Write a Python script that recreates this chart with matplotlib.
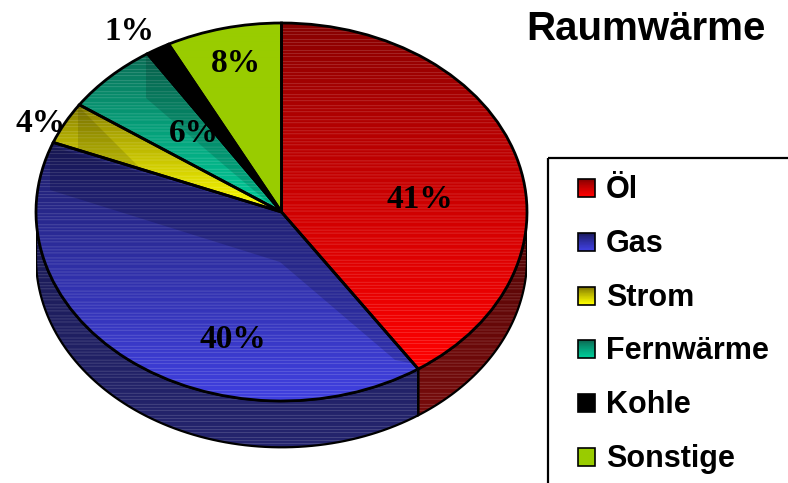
import numpy as np
import matplotlib
matplotlib.use('Agg')
import matplotlib.pyplot as plt
from matplotlib.colors import to_rgb
from matplotlib.patches import Polygon, Rectangle

categories = ['Öl', 'Gas', 'Strom', 'Fernwärme', 'Kohle', 'Sonstige']
values = [40.6, 40.4, 3.6, 6.2, 1.6, 7.6]
pct_labels = ['41%', '40%', '4%', '6%', '1%', '8%']
top_dark = ['#840000', '#1a1a5c', '#7d7400', '#0c6852', '#000000', '#99cc00']
top_bright = ['#ff0000', '#4040e0', '#ffff00', '#00cc99', '#000000', '#99cc00']
side_dark = ['#4c0404', '#181850', '#7d7400', '#0c6852', '#000000', '#99cc00']
side_bright = ['#7c0c0c', '#25256e', '#7d7400', '#0c6852', '#000000', '#99cc00']
label_x = [420, 233, 41, 194, 129, 236]
label_y = [199, 340, 123, 133, 31, 64]

W, H = 788, 483
DEPTH = 0.245
RY = 189


def stripes(dark, bright, n=90, lines=True):
    # vertical gradient with the light scan lines of the old bitmap
    n = max(int(n), 2)
    t = np.linspace(0, 1, n)[:, None] ** 0.8
    img = np.array(to_rgb(dark)) * (1 - t) + np.array(to_rgb(bright)) * t
    if lines and dark != bright:
        light = (np.arange(n) * 7 % 11) < 3
        img[light] = img[light] + (1 - img[light]) * 0.14
    return img[:, None, :]


fig = plt.figure(figsize=(W / 100, H / 100), dpi=100)

# pie axes: x 36..527 px, top ellipse y 23..401 px, room below for the rim
ax = fig.add_axes([36 / W, 1 - 450 / H, 491 / W, 427 / H])
wedges, _ = ax.pie(values, startangle=90, counterclock=False, radius=1,
                   colors=['none'] * 6, frame=False,
                   wedgeprops={'edgecolor': 'black', 'linewidth': 2.0, 'zorder': 5})
ax.set_aspect('auto')
ylim = (1 - 427 / RY, 1)

# rim
start = 90.0
for i, v in enumerate(values):
    end = start - v * 3.6
    a, b = max(end, -180), min(start, 0)
    if b > a:
        th = np.radians(np.linspace(a, b, 80))
        x, y = np.cos(th), np.sin(th)
        pts = np.r_[np.c_[x, y], np.c_[x, y - DEPTH][::-1]]
        rim = Polygon(pts, closed=True, fc='none', ec='black', lw=1.6, zorder=3)
        ax.add_patch(rim)
        im = ax.imshow(stripes(side_dark[i], side_bright[i], (1 + DEPTH) * RY), aspect='auto',
                       extent=(-1, 1, -1 - DEPTH, 0), zorder=2)
        im.set_clip_path(rim)
    start = end

# top face, one gradient per slice
for i, w in enumerate(wedges):
    th = np.radians(np.linspace(w.theta2, w.theta1, 60))
    ys = np.r_[np.sin(th), 0]
    xs = np.r_[np.cos(th), 0]
    im = ax.imshow(stripes(top_dark[i], top_bright[i], (ys.max() - ys.min()) * RY), aspect='auto',
                   extent=(xs.min(), xs.max(), ys.min(), ys.max()), zorder=4)
    im.set_clip_path(w)

ax.set_xlim(-1, 1)
ax.set_ylim(*ylim)
ax.axis('off')

# overlay in pixel coordinates: title, percentages, legend
ov = fig.add_axes([0, 0, 1, 1], facecolor='none')
ov.axis('off')

# darker facet seen through the slices
ov.add_patch(Polygon([(50, 146), (50, 190), (280, 262), (395, 360), (415, 364), (280, 213)],
                     closed=True, fc='black', alpha=0.16, ec='none', zorder=2))
ov.add_patch(Polygon([(146, 55), (146, 98), (232, 172), (277, 210)],
                     closed=True, fc='black', alpha=0.14, ec='none', zorder=2))
ov.add_patch(Polygon([(78, 106), (78, 150), (140, 168)],
                     closed=True, fc='black', alpha=0.12, ec='none', zorder=2))

ov.add_patch(Rectangle((548, 158), 400, 500, fc='none', ec='black', lw=1.6))
ov.text(646, 29, 'Raumwärme', family='Liberation Sans', weight='bold', fontsize=29,
        ha='center', va='center', color='black')
for lab, x, y in zip(pct_labels, label_x, label_y):
    ov.text(x, y, lab, family='Liberation Serif', weight='bold', fontsize=24,
            ha='center', va='center', color='black', zorder=8)

for i, name in enumerate(categories):
    yc = 188 + i * 53.8
    sw = ov.imshow(stripes(top_dark[i], top_bright[i], 12, lines=False), aspect='auto',
                   extent=(578, 595, yc + 9, yc - 9), origin='upper', zorder=3)
    ov.add_patch(Rectangle((578, yc - 9), 17, 18, fc='none', ec='black', lw=1.2, zorder=4))
    ov.text(606, yc + 2, name, family='Liberation Sans', weight='bold', fontsize=22,
            ha='left', va='center', color='black')
ov.set_xlim(0, W)
ov.set_ylim(H, 0)

fig.savefig('out.png', dpi=100)
